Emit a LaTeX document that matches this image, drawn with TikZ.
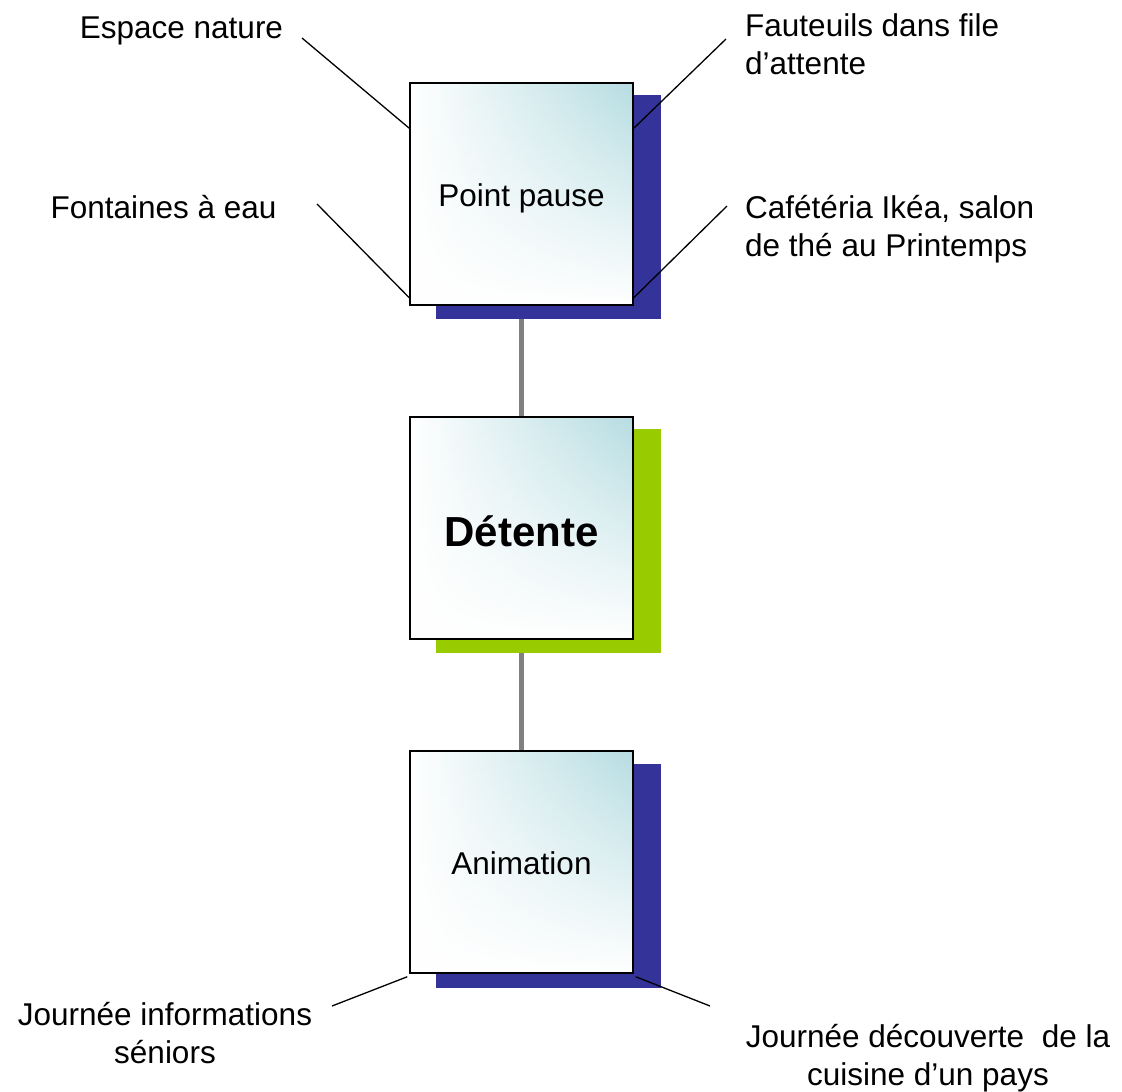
\documentclass[tikz,border=0pt]{standalone}
\usepackage{fontspec}
\setmainfont{Liberation Sans}
\usetikzlibrary{calc,backgrounds,fadings}
\definecolor{shadowblue}{RGB}{51,51,153}
\definecolor{shadowgreen}{RGB}{153,204,0}
\definecolor{tealtint}{RGB}{182,221,226}
\definecolor{stemgray}{RGB}{128,128,128}
% whitening that grows towards the lower edge of a card
\tikzfading[name=cardfade, top color=transparent!100, middle color=transparent!88, bottom color=transparent!0]
\begin{document}
\begin{tikzpicture}[x=1pt,y=-1pt,
  card/.style={draw=black, line width=1.5pt, minimum width=223pt, minimum height=222pt,
    inner sep=0pt, left color=white, right color=tealtint,
    path picture={\fill[white, path fading=cardfade]
      (path picture bounding box.south west) rectangle (path picture bounding box.north east);},
    font=\fontsize{31.5}{38}\selectfont},
  backcard/.style={minimum width=225pt, minimum height=224pt, inner sep=0pt, fill=#1},
  label/.style={inner sep=0pt, font=\fontsize{31.5}{38}\selectfont},
  leader/.style={line width=1.3pt},
  stemline/.style={draw=stemgray, line width=5pt}]
\useasboundingbox (0,0) rectangle (1122,1092);

% offset back plates
\node[backcard=shadowblue]  (pps) at (548.5,207) {};
\node[backcard=shadowgreen] (dts) at (548.5,541) {};
\node[backcard=shadowblue]  (ans) at (548.5,876) {};

% front cards
\node[card] (pp) at (521.5,194) {\raisebox{-4pt}[\height][\depth]{Point pause}};
\node[card, font=\bfseries\fontsize{42}{48}\selectfont] (dt) at (521.5,528) {\raisebox{-3pt}[\height][\depth]{Détente}};
\node[card] (an) at (521.5,862) {\raisebox{-1pt}[\height][\depth]{Animation}};

% vertical stems between the cards
\begin{scope}[on background layer]
  \draw[stemline] (pp.south) -- (dt.north);
  \draw[stemline] (dt.south) -- (an.north);
\end{scope}

% labels (multi-line labels are anchored on their last line)
\node[label, anchor=base] (l1) at (181.5,38) {Espace nature};
\node[label, anchor=base] (l2) at (163.5,218) {Fontaines à eau};
\node[label, anchor=base west, align=left] (r1) at (745,74) {Fauteuils dans file\\d’attente};
\node[label, anchor=base west, align=left] (r2) at (745,256) {Cafétéria Ikéa, salon\\de thé au Printemps};
\node[label, anchor=base, align=center] (b1) at (165,1063) {Journée informations\\séniors};
\node[label, anchor=base, align=center] (b2) at (928,1085) {Journée découverte\ \ de la\\cuisine d’un pays};

% leader lines
\coordinate (l1e) at (302,38);
\coordinate (l2e) at (317,204);
\coordinate (r1e) at (726,39);
\coordinate (r2e) at (727,206);
\coordinate (b1e) at (332,1006);
\coordinate (b2e) at (710,1006);
\draw[leader] (l1e) -- ($(pp.north west)+(0,46)$);
\draw[leader] (l2e) -- ($(pp.south west)+(0,-8)$);
\draw[leader] (r1e) -- ($(pp.north east)+(0,46)$);
\draw[leader] (r2e) -- ($(pp.south east)+(0,-8)$);
\draw[leader] (b1e) -- ($(an.south west)+(-2,3)$);
\draw[leader] (b2e) -- ($(an.south east)+(2,3)$);
\end{tikzpicture}
\end{document}
